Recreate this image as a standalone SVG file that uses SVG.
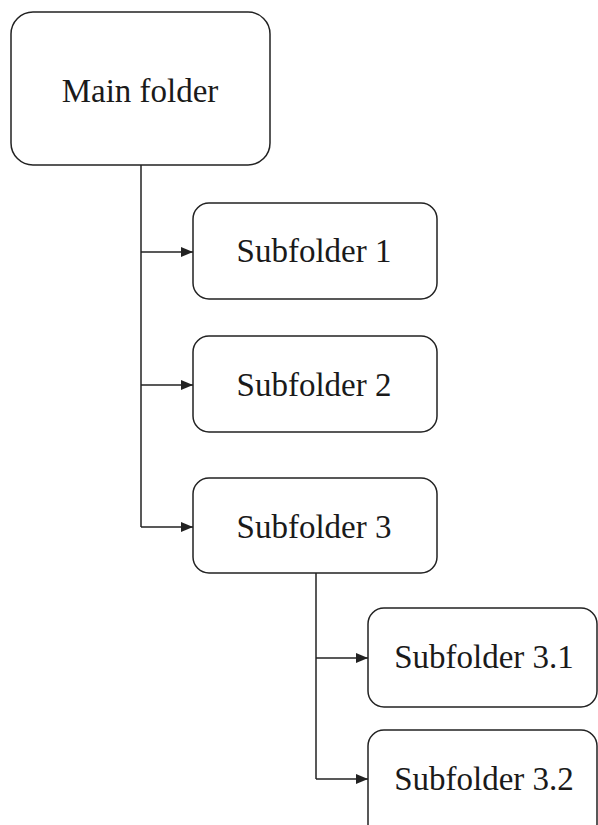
<svg xmlns="http://www.w3.org/2000/svg" width="598" height="825" viewBox="0 0 598 825">
<style>
.box{fill:#fff;stroke:#222;stroke-width:1.5}
.lbl{font-family:'Liberation Serif','DejaVu Serif','Times New Roman',serif;font-size:33px;fill:#1a1a1a;text-anchor:middle}
.conn{fill:none;stroke:#222;stroke-width:1.5}
</style>
<defs>
<marker id="arr" markerWidth="12" markerHeight="10" refX="12" refY="5" orient="auto" markerUnits="userSpaceOnUse">
<path d="M0,0 L12,5 L0,10 Z" fill="#222"/>
</marker>
</defs>
<rect width="598" height="825" fill="#fff"/>
<g id="connectors">
<path class="conn" d="M141,165 V527"/>
<path class="conn" d="M141,252 H193" marker-end="url(#arr)"/>
<path class="conn" d="M141,385 H193" marker-end="url(#arr)"/>
<path class="conn" d="M141,527 H193" marker-end="url(#arr)"/>
<path class="conn" d="M316,573 V779"/>
<path class="conn" d="M316,658 H368" marker-end="url(#arr)"/>
<path class="conn" d="M316,779 H368" marker-end="url(#arr)"/>
</g>
<g id="main">
<rect class="box" x="11" y="12" width="259" height="153" rx="22"/>
<text class="lbl" x="140" y="102" font-family="Liberation Serif, serif">Main folder</text>
</g>
<g id="sub1">
<rect class="box" x="193" y="203" width="244" height="96" rx="16"/>
<text class="lbl" x="314" y="262">Subfolder 1</text>
</g>
<g id="sub2">
<rect class="box" x="193" y="336" width="244" height="96" rx="16"/>
<text class="lbl" x="314" y="396">Subfolder 2</text>
</g>
<g id="sub3">
<rect class="box" x="193" y="478" width="244" height="95" rx="16"/>
<text class="lbl" x="314" y="538">Subfolder 3</text>
</g>
<g id="sub31">
<rect class="box" x="368" y="608" width="229" height="99" rx="16"/>
<text class="lbl" x="484" y="668">Subfolder 3.1</text>
</g>
<g id="sub32">
<rect class="box" x="368" y="730" width="229" height="110" rx="16"/>
<text class="lbl" x="484" y="790">Subfolder 3.2</text>
</g>
</svg>
